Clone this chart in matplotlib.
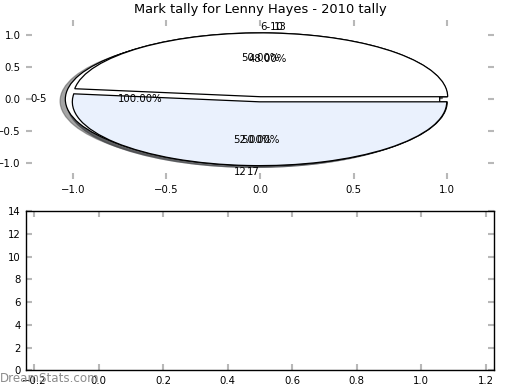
import matplotlib
matplotlib.use("Agg")
import matplotlib.pyplot as plt

# pies drawn on top of each other, in drawing order
pie_labels = [
    ["6-10", "17"],
    ["0-5"],
    ["13", "12"],
]
pie_values = [
    [50, 50],
    [100],
    [48, 52],
]

title = "Mark tally for Lenny Hayes - 2010 tally"
pie_ticks = [-1.0, -0.5, 0.0, 0.5, 1.0]
bottom_xticks = [-0.2, 0.0, 0.2, 0.4, 0.6, 0.8, 1.0, 1.2]
bottom_yticks = [0, 2, 4, 6, 8, 10, 12, 14]

wedge_colors = ["white", "#eaf1fd"]

plt.rcParams["font.family"] = "DejaVu Sans"
plt.rcParams["font.size"] = 7.3
plt.rcParams["xtick.labelsize"] = 7.3
plt.rcParams["ytick.labelsize"] = 7.3

fig, (ax1, ax2) = plt.subplots(2, 1, figsize=(5.2, 3.9), dpi=100)
fig.subplots_adjust(left=0.05, right=0.95, top=0.95, bottom=0.05, hspace=0.2)

for labels, values in zip(pie_labels, pie_values):
    wedges, texts, autotexts = ax1.pie(
        values,
        labels=labels,
        colors=wedge_colors[:len(values)],
        explode=[0.04] * len(values),
        autopct="%1.2f%%",
        shadow=True,
        frame=False,
        wedgeprops={"edgecolor": "black", "linewidth": 0.9},
    )
    # labels sitting right on the vertical: top one starts at x=0, bottom one ends there
    for t in texts:
        x, y = t.get_position()
        if abs(x) < 1e-6:
            t.set_ha("left" if y > 0 else "right")

ax1.set_aspect("auto")
ax1.set_xlim(-1.25, 1.25)
ax1.set_ylim(-1.25, 1.25)
ax1.set_xticks(pie_ticks)
ax1.set_yticks(pie_ticks)
ax1.set_title(title, fontsize=9.4, pad=5)

ax2.set_xlim(-0.225, 1.225)
ax2.set_ylim(0, 14)
ax2.set_xticks(bottom_xticks)
ax2.set_yticks(bottom_yticks)
for sp in ax2.spines.values():
    sp.set_linewidth(1.0)

for ax in (ax1, ax2):
    ax.tick_params(direction="in", length=4, width=1.5, color="#b8b8b8",
                   top=True, right=True, pad=4)

fig.text(0.0, 0.012, "DreamStats.com", color="#8c8c8c", fontsize=8.6,
         ha="left", va="bottom")

fig.savefig("out.png", dpi=100)
